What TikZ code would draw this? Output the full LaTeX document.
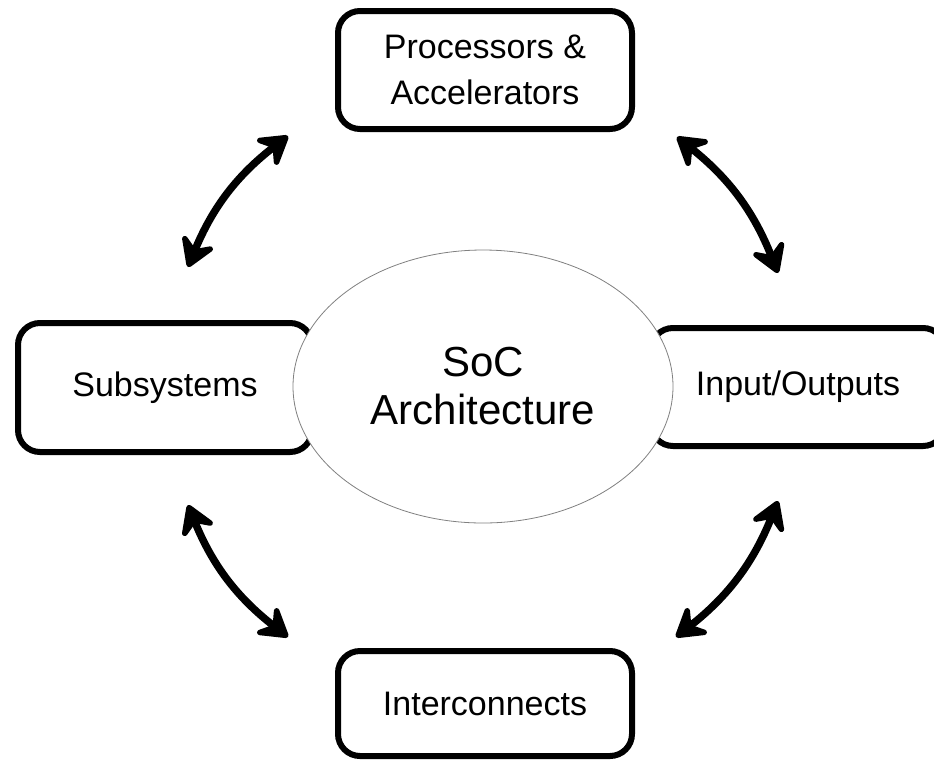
\documentclass[tikz,border=0pt]{standalone}
\usepackage{fontspec}
\setmainfont{Liberation Sans}
\usetikzlibrary{shapes.geometric,arrows.meta}

\tikzset{
  block/.style={draw=black, line width=6pt, rounded corners=22pt, fill=white,
    inner sep=0pt, align=center, font=\fontsize{34}{46}\selectfont},
  core/.style={ellipse, draw=gray, line width=0.8pt, fill=white, inner sep=0pt,
    minimum width=380pt, minimum height=273pt, align=center,
    font=\fontsize{42}{48}\selectfont},
  tipshape/.tip={Stealth[length=36pt,width=44pt,inset=14pt,round]},
  link/.style={line width=7.5pt, line cap=round, tipshape-tipshape, bend left=15}
}

\begin{document}
\begin{tikzpicture}[x=1pt,y=-1pt]
  \useasboundingbox (0,0) rectangle (934,764);

  % outer blocks
  \node[block, minimum width=294pt, minimum height=118pt] (proc) at (485,70)
    {Processors \&\\Accelerators};
  \node[block, minimum width=294pt, minimum height=129pt] (sub) at (165,387.5)
    {Subsystems};
  \node[block, minimum width=294pt, minimum height=118pt] (io) at (798,387)
    {Input/Outputs};
  \node[block, minimum width=294pt, minimum height=105pt] (inter) at (485,703.5)
    {Interconnects};

  % central ellipse, drawn over the side blocks
  \node[core] (soc) at (483,386.5) {SoC\\Architecture};

  % arrow end points
  \coordinate (tlA) at (188,267);
  \coordinate (tlB) at (288,136);
  \coordinate (trA) at (677,137);
  \coordinate (trB) at (778,273);
  \coordinate (brA) at (778,501);
  \coordinate (brB) at (676,637);
  \coordinate (blA) at (288,637);
  \coordinate (blB) at (188,505);

  \draw[link] (tlA) to (tlB);
  \draw[link] (trA) to (trB);
  \draw[link] (brA) to (brB);
  \draw[link] (blA) to (blB);
\end{tikzpicture}
\end{document}
